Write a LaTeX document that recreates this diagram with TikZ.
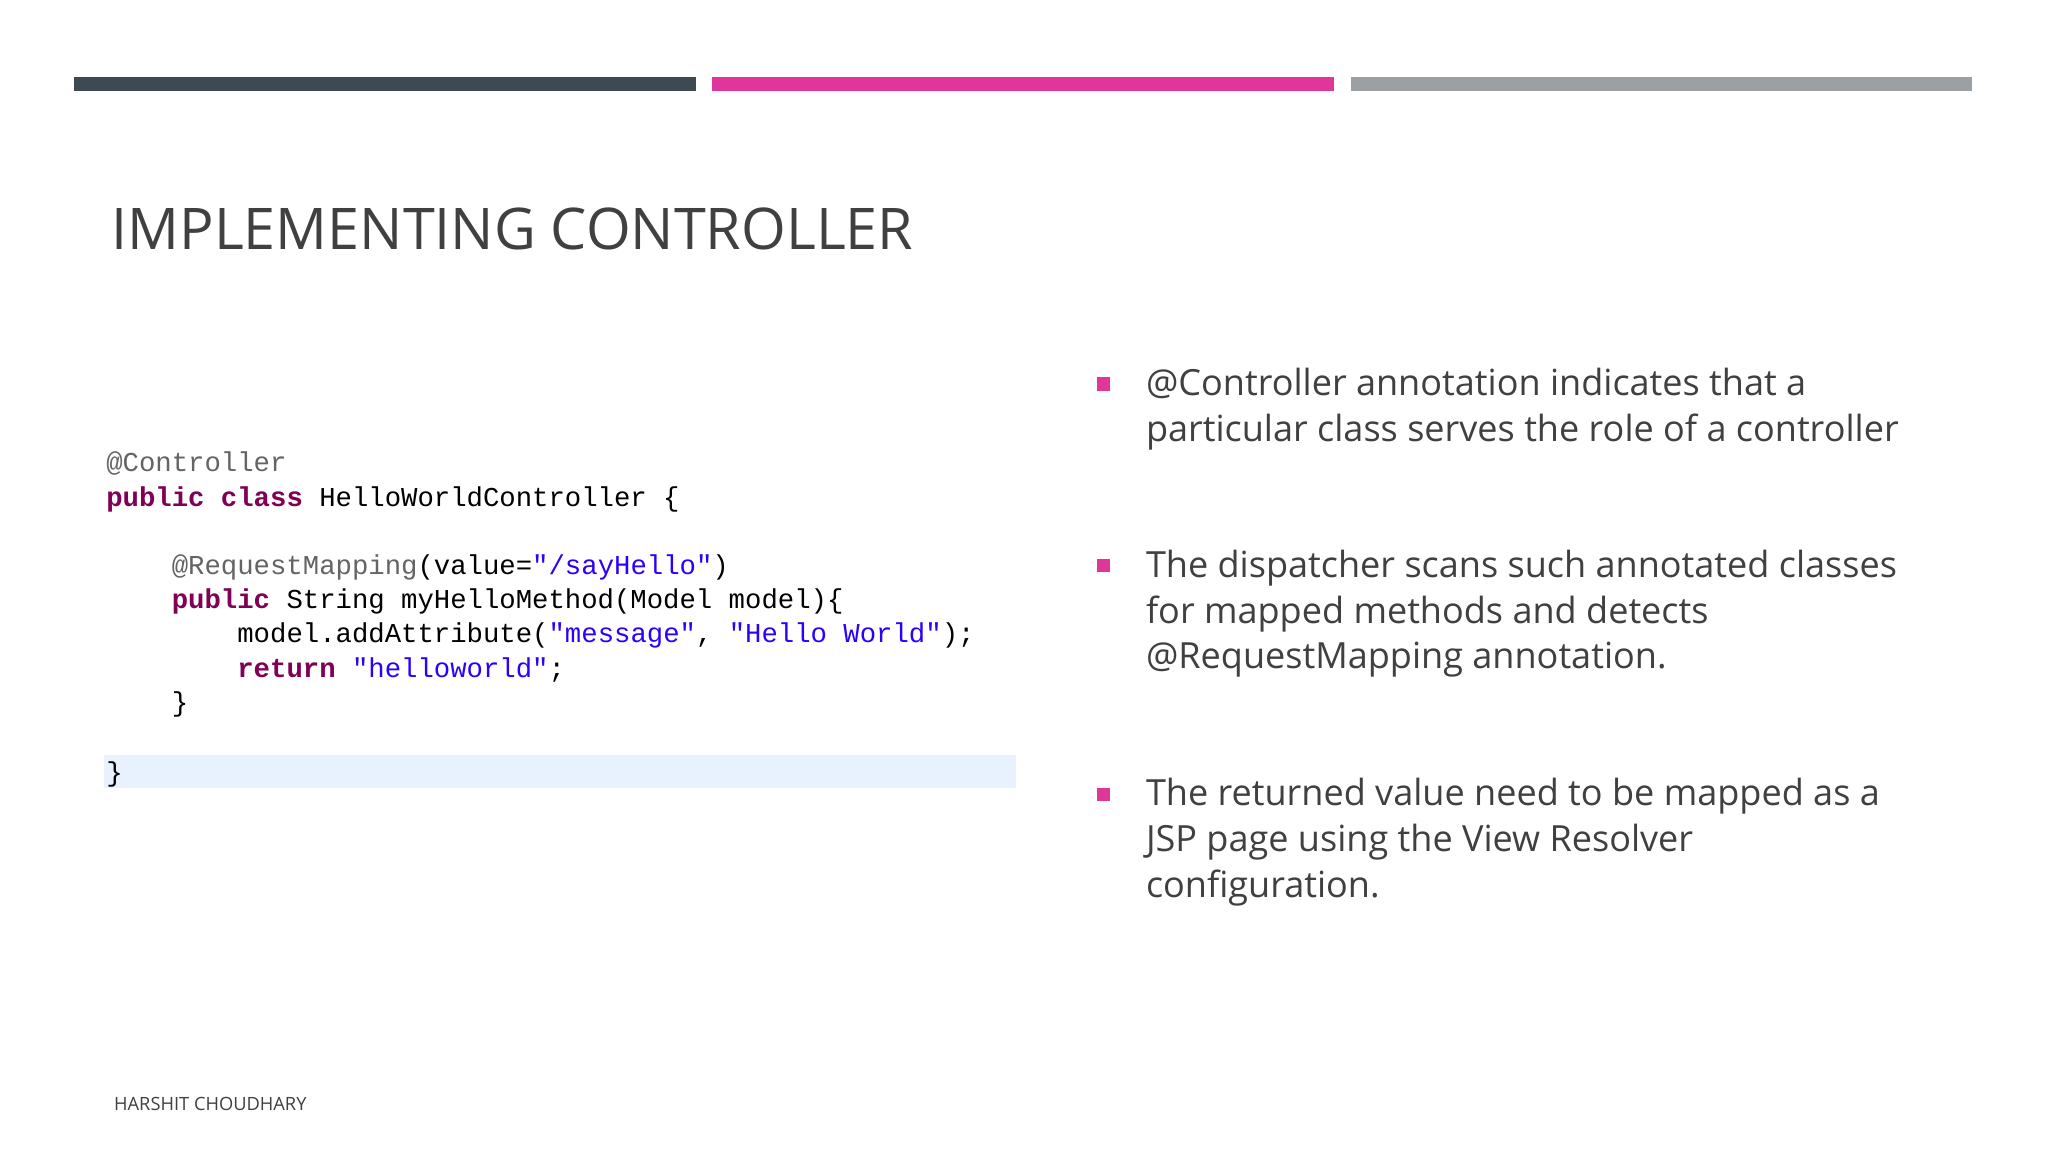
\documentclass[tikz,border=0pt]{standalone}
\usepackage{fontspec}
\setmainfont{Open Sans}
\setmonofont{Liberation Mono}
\definecolor{dk}{HTML}{3D4A52}
\definecolor{pk}{HTML}{E0359A}
\definecolor{gy}{HTML}{9AA0A4}
\definecolor{tx}{HTML}{404040}
\definecolor{kw}{HTML}{7F0055}
\definecolor{st}{HTML}{2A00FF}
\definecolor{an}{HTML}{646464}
\definecolor{hl}{HTML}{E8F2FE}
\newcommand{\kwd}[1]{\textcolor{kw}{\textbf{#1}}}
\newcommand{\strg}[1]{\textcolor{st}{#1}}
\begin{document}
\begin{tikzpicture}[x=0.5pt,y=-0.5pt,
  bl/.style={anchor=base west,inner sep=0,text=tx,font=\fontsize{13.8}{17}\selectfont},
  cd/.style={anchor=base west,inner sep=0,font=\ttfamily\fontsize{10.45}{13}\selectfont},
  sq/.style={fill=pk}]
\useasboundingbox (0,0) rectangle (1568,882);
\fill[white] (0,0) rectangle (1568,882);
\fill[dk] (57,59) rectangle (533,70);
\fill[pk] (545,59) rectangle (1021,70);
\fill[gy] (1034,59) rectangle (1510,70);
\node[anchor=base west,inner sep=0,text=tx,font=\fontsize{22}{26}\selectfont] (title) at (85,191) {IMPLEMENTING CONTROLLER};
\fill[hl] (80,578) rectangle (778,603);
\node[cd,text=an] (c1) at (81,361) {@Controller};
\node[cd] (c2) at (81,388) {\kwd{public} \kwd{class} HelloWorldController \{};
\node[cd,text=an] (c3) at (81,440) {\ \ \ \ @RequestMapping\textcolor{black}{(value=}\strg{"/sayHello"}\textcolor{black}{)}};
\node[cd] (c4) at (81,466) {\ \ \ \ \kwd{public} String myHelloMethod(Model model)\{};
\node[cd] (c5) at (81,492) {\ \ \ \ \ \ \ \ model.addAttribute(\strg{"message"}, \strg{"Hello World"});};
\node[cd] (c6) at (81,519) {\ \ \ \ \ \ \ \ \kwd{return} \strg{"helloworld"};};
\node[cd] (c7) at (81,545) {\ \ \ \ \}};
\node[cd] (c8) at (81,598) {\}};
\fill[sq] (840,289) rectangle (850,299);
\node[bl] (b1a) at (877,303) {@Controller annotation indicates that a};
\node[bl] (b1b) at (877,338) {particular class serves the role of a controller};
\fill[sq] (840,428) rectangle (850,438);
\node[bl] (b2a) at (877,442) {The dispatcher scans such annotated classes};
\node[bl] (b2b) at (877,477) {for mapped methods and detects};
\node[bl] (b2c) at (877,512) {@RequestMapping annotation.};
\fill[sq] (840,603) rectangle (850,613);
\node[bl] (b3a) at (877,617) {The returned value need to be mapped as a};
\node[bl] (b3b) at (877,652) {JSP page using the View Resolver};
\node[bl] (b3c) at (877,687) {configuration.};
\node[anchor=base west,inner sep=0,text=tx,font=\fontsize{7}{8}\selectfont] (ft) at (87,850) {HARSHIT CHOUDHARY};
\end{tikzpicture}
\end{document}
